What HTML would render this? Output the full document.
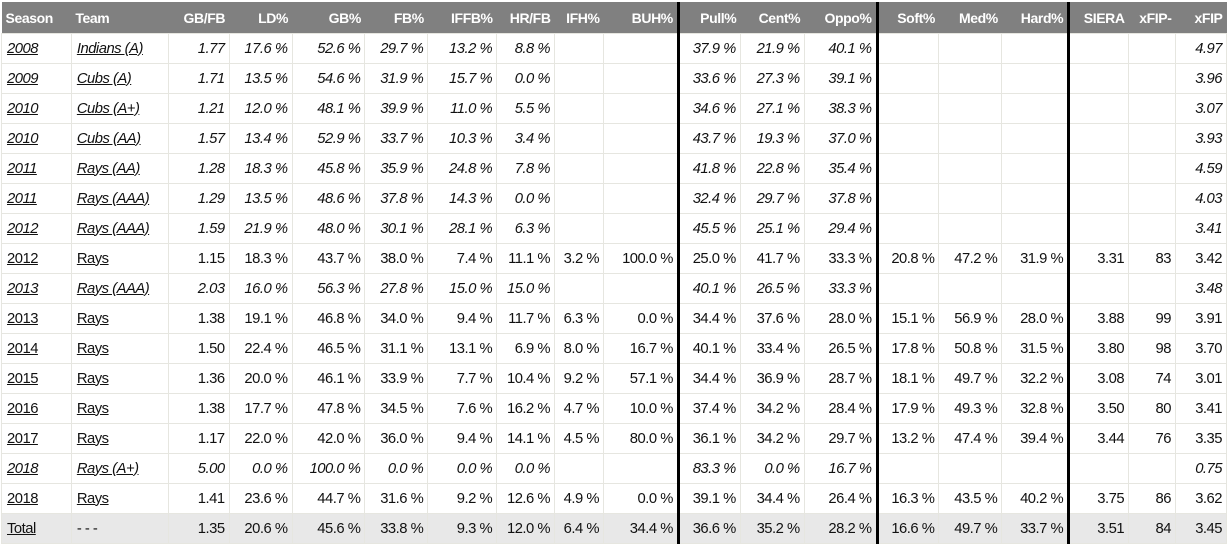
<!DOCTYPE html>
<html><head><meta charset="utf-8"><style>
body{margin:0;background:#fff;width:1227px;height:544px;overflow:hidden}
table{position:absolute;left:1px;top:2px;border-collapse:collapse;table-layout:fixed;font-family:"Liberation Sans",sans-serif;font-size:14.8px;color:#111;letter-spacing:-0.5px}
th{background:#808080;color:#fff;font-weight:bold;font-size:14px;letter-spacing:-0.4px;height:31px;padding:0 4px;text-align:right;border:none}
th.l{text-align:left}
td{height:29px;padding:0 4px;text-align:right;border:1px solid #e6e6e0;white-space:nowrap;overflow:hidden}
td.l{text-align:left;padding-left:5px}
td.l span{text-decoration:underline}
tr.i td{font-style:italic}
.tk{border-right:3px solid #000!important}
tr.t td{background:#e8e8e8}
</style></head><body>
<table>
<colgroup>
<col style="width:70px"><col style="width:97px"><col style="width:61px"><col style="width:63px"><col style="width:73px"><col style="width:63px"><col style="width:69px"><col style="width:58px"><col style="width:49px"><col style="width:75px"><col style="width:62px"><col style="width:64px"><col style="width:73px"><col style="width:62px"><col style="width:63px"><col style="width:67px"><col style="width:60px"><col style="width:47px"><col style="width:51px">
</colgroup>
<tr><th class="l">Season</th><th class="l">Team</th><th>GB/FB</th><th>LD%</th><th>GB%</th><th>FB%</th><th>IFFB%</th><th>HR/FB</th><th>IFH%</th><th class="tk">BUH%</th><th>Pull%</th><th>Cent%</th><th class="tk">Oppo%</th><th>Soft%</th><th>Med%</th><th class="tk">Hard%</th><th>SIERA</th><th>xFIP-</th><th>xFIP</th></tr>
<tr class="i"><td class="l"><span>2008</span></td><td class="l"><span>Indians (A)</span></td><td>1.77</td><td>17.6 %</td><td>52.6 %</td><td>29.7 %</td><td>13.2 %</td><td>8.8 %</td><td></td><td class="tk"></td><td>37.9 %</td><td>21.9 %</td><td class="tk">40.1 %</td><td></td><td></td><td class="tk"></td><td></td><td></td><td>4.97</td></tr>
<tr class="i"><td class="l"><span>2009</span></td><td class="l"><span>Cubs (A)</span></td><td>1.71</td><td>13.5 %</td><td>54.6 %</td><td>31.9 %</td><td>15.7 %</td><td>0.0 %</td><td></td><td class="tk"></td><td>33.6 %</td><td>27.3 %</td><td class="tk">39.1 %</td><td></td><td></td><td class="tk"></td><td></td><td></td><td>3.96</td></tr>
<tr class="i"><td class="l"><span>2010</span></td><td class="l"><span>Cubs (A+)</span></td><td>1.21</td><td>12.0 %</td><td>48.1 %</td><td>39.9 %</td><td>11.0 %</td><td>5.5 %</td><td></td><td class="tk"></td><td>34.6 %</td><td>27.1 %</td><td class="tk">38.3 %</td><td></td><td></td><td class="tk"></td><td></td><td></td><td>3.07</td></tr>
<tr class="i"><td class="l"><span>2010</span></td><td class="l"><span>Cubs (AA)</span></td><td>1.57</td><td>13.4 %</td><td>52.9 %</td><td>33.7 %</td><td>10.3 %</td><td>3.4 %</td><td></td><td class="tk"></td><td>43.7 %</td><td>19.3 %</td><td class="tk">37.0 %</td><td></td><td></td><td class="tk"></td><td></td><td></td><td>3.93</td></tr>
<tr class="i"><td class="l"><span>2011</span></td><td class="l"><span>Rays (AA)</span></td><td>1.28</td><td>18.3 %</td><td>45.8 %</td><td>35.9 %</td><td>24.8 %</td><td>7.8 %</td><td></td><td class="tk"></td><td>41.8 %</td><td>22.8 %</td><td class="tk">35.4 %</td><td></td><td></td><td class="tk"></td><td></td><td></td><td>4.59</td></tr>
<tr class="i"><td class="l"><span>2011</span></td><td class="l"><span>Rays (AAA)</span></td><td>1.29</td><td>13.5 %</td><td>48.6 %</td><td>37.8 %</td><td>14.3 %</td><td>0.0 %</td><td></td><td class="tk"></td><td>32.4 %</td><td>29.7 %</td><td class="tk">37.8 %</td><td></td><td></td><td class="tk"></td><td></td><td></td><td>4.03</td></tr>
<tr class="i"><td class="l"><span>2012</span></td><td class="l"><span>Rays (AAA)</span></td><td>1.59</td><td>21.9 %</td><td>48.0 %</td><td>30.1 %</td><td>28.1 %</td><td>6.3 %</td><td></td><td class="tk"></td><td>45.5 %</td><td>25.1 %</td><td class="tk">29.4 %</td><td></td><td></td><td class="tk"></td><td></td><td></td><td>3.41</td></tr>
<tr><td class="l"><span>2012</span></td><td class="l"><span>Rays</span></td><td>1.15</td><td>18.3 %</td><td>43.7 %</td><td>38.0 %</td><td>7.4 %</td><td>11.1 %</td><td>3.2 %</td><td class="tk">100.0 %</td><td>25.0 %</td><td>41.7 %</td><td class="tk">33.3 %</td><td>20.8 %</td><td>47.2 %</td><td class="tk">31.9 %</td><td>3.31</td><td>83</td><td>3.42</td></tr>
<tr class="i"><td class="l"><span>2013</span></td><td class="l"><span>Rays (AAA)</span></td><td>2.03</td><td>16.0 %</td><td>56.3 %</td><td>27.8 %</td><td>15.0 %</td><td>15.0 %</td><td></td><td class="tk"></td><td>40.1 %</td><td>26.5 %</td><td class="tk">33.3 %</td><td></td><td></td><td class="tk"></td><td></td><td></td><td>3.48</td></tr>
<tr><td class="l"><span>2013</span></td><td class="l"><span>Rays</span></td><td>1.38</td><td>19.1 %</td><td>46.8 %</td><td>34.0 %</td><td>9.4 %</td><td>11.7 %</td><td>6.3 %</td><td class="tk">0.0 %</td><td>34.4 %</td><td>37.6 %</td><td class="tk">28.0 %</td><td>15.1 %</td><td>56.9 %</td><td class="tk">28.0 %</td><td>3.88</td><td>99</td><td>3.91</td></tr>
<tr><td class="l"><span>2014</span></td><td class="l"><span>Rays</span></td><td>1.50</td><td>22.4 %</td><td>46.5 %</td><td>31.1 %</td><td>13.1 %</td><td>6.9 %</td><td>8.0 %</td><td class="tk">16.7 %</td><td>40.1 %</td><td>33.4 %</td><td class="tk">26.5 %</td><td>17.8 %</td><td>50.8 %</td><td class="tk">31.5 %</td><td>3.80</td><td>98</td><td>3.70</td></tr>
<tr><td class="l"><span>2015</span></td><td class="l"><span>Rays</span></td><td>1.36</td><td>20.0 %</td><td>46.1 %</td><td>33.9 %</td><td>7.7 %</td><td>10.4 %</td><td>9.2 %</td><td class="tk">57.1 %</td><td>34.4 %</td><td>36.9 %</td><td class="tk">28.7 %</td><td>18.1 %</td><td>49.7 %</td><td class="tk">32.2 %</td><td>3.08</td><td>74</td><td>3.01</td></tr>
<tr><td class="l"><span>2016</span></td><td class="l"><span>Rays</span></td><td>1.38</td><td>17.7 %</td><td>47.8 %</td><td>34.5 %</td><td>7.6 %</td><td>16.2 %</td><td>4.7 %</td><td class="tk">10.0 %</td><td>37.4 %</td><td>34.2 %</td><td class="tk">28.4 %</td><td>17.9 %</td><td>49.3 %</td><td class="tk">32.8 %</td><td>3.50</td><td>80</td><td>3.41</td></tr>
<tr><td class="l"><span>2017</span></td><td class="l"><span>Rays</span></td><td>1.17</td><td>22.0 %</td><td>42.0 %</td><td>36.0 %</td><td>9.4 %</td><td>14.1 %</td><td>4.5 %</td><td class="tk">80.0 %</td><td>36.1 %</td><td>34.2 %</td><td class="tk">29.7 %</td><td>13.2 %</td><td>47.4 %</td><td class="tk">39.4 %</td><td>3.44</td><td>76</td><td>3.35</td></tr>
<tr class="i"><td class="l"><span>2018</span></td><td class="l"><span>Rays (A+)</span></td><td>5.00</td><td>0.0 %</td><td>100.0 %</td><td>0.0 %</td><td>0.0 %</td><td>0.0 %</td><td></td><td class="tk"></td><td>83.3 %</td><td>0.0 %</td><td class="tk">16.7 %</td><td></td><td></td><td class="tk"></td><td></td><td></td><td>0.75</td></tr>
<tr><td class="l"><span>2018</span></td><td class="l"><span>Rays</span></td><td>1.41</td><td>23.6 %</td><td>44.7 %</td><td>31.6 %</td><td>9.2 %</td><td>12.6 %</td><td>4.9 %</td><td class="tk">0.0 %</td><td>39.1 %</td><td>34.4 %</td><td class="tk">26.4 %</td><td>16.3 %</td><td>43.5 %</td><td class="tk">40.2 %</td><td>3.75</td><td>86</td><td>3.62</td></tr>
<tr class="t"><td class="l"><span>Total</span></td><td class="l">- - -</td><td>1.35</td><td>20.6 %</td><td>45.6 %</td><td>33.8 %</td><td>9.3 %</td><td>12.0 %</td><td>6.4 %</td><td class="tk">34.4 %</td><td>36.6 %</td><td>35.2 %</td><td class="tk">28.2 %</td><td>16.6 %</td><td>49.7 %</td><td class="tk">33.7 %</td><td>3.51</td><td>84</td><td>3.45</td></tr>
</table>
</body></html>
